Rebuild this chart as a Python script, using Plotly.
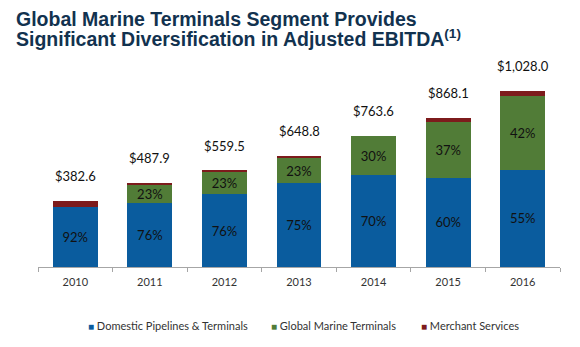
import plotly.graph_objects as go

years = ["2010", "2011", "2012", "2013", "2014", "2015", "2016"]
totals = [382.6, 487.9, 559.5, 648.8, 763.6, 868.1, 1028.0]
domestic = [352.0, 370.8, 425.2, 486.6, 534.5, 520.9, 565.4]
marine = [0.0, 112.2, 128.7, 149.2, 229.1, 321.2, 431.8]
merchant = [30.6, 4.9, 5.6, 13.0, 0.0, 26.0, 30.8]
domestic_pct = ["92%", "76%", "76%", "75%", "70%", "60%", "55%"]
marine_pct = ["", "23%", "23%", "23%", "30%", "37%", "42%"]
total_labels = ["$382.6", "$487.9", "$559.5", "$648.8", "$763.6", "$868.1", "$1,028.0"]
series_names = ["Domestic Pipelines & Terminals", "Global Marine Terminals", "Merchant Services"]

C_BLUE = "#0a5c9e"
C_GREEN = "#517c37"
C_RED = "#7d1b1c"
FONT = "Lato"

fig = go.Figure()
fig.add_trace(go.Bar(x=years, y=domestic, marker=dict(color=C_BLUE, line=dict(width=0)),
                     text=domestic_pct, textposition="inside", insidetextanchor="middle",
                     textangle=0, constraintext="none",
                     textfont=dict(family=FONT, size=13, color="#111111"), name=series_names[0]))
fig.add_trace(go.Bar(x=years, y=marine, marker=dict(color=C_GREEN, line=dict(width=0)),
                     text=marine_pct, textposition="inside", insidetextanchor="middle",
                     textangle=0, constraintext="none",
                     textfont=dict(family=FONT, size=13, color="#111111"), name=series_names[1]))
fig.add_trace(go.Bar(x=years, y=merchant, marker=dict(color=C_RED, line=dict(width=0)),
                     name=series_names[2], textposition="none"))

for i, (tot, lab) in enumerate(zip(totals, total_labels)):
    fig.add_annotation(x=i, y=tot, text=lab, showarrow=False, yshift=25,
                       xanchor="center", yanchor="middle",
                       font=dict(family=FONT, size=13, color="#111111"))

# title lines
TX = (14 - 38) / 522
fig.add_annotation(xref="paper", yref="paper", x=TX, y=1 + (61 - 19) / 206,
                   text="<b>Global Marine Terminals Segment Provides</b>", showarrow=False,
                   xanchor="left", yanchor="middle",
                   font=dict(family="Liberation Sans", size=19.5, color="#12324f"))
fig.add_annotation(xref="paper", yref="paper", x=TX, y=1 + (61 - 38) / 206,
                   text="<b>Significant Diversification in Adjusted EBITDA<sup>(1)</sup></b>", showarrow=False,
                   xanchor="left", yanchor="middle",
                   font=dict(family="Liberation Sans", size=19.5, color="#12324f"))

# legend as annotations
legend_x = [86, 269, 419]
for name, col, lx in zip(series_names, [C_BLUE, C_GREEN, C_RED], legend_x):
    fig.add_annotation(xref="paper", yref="paper", x=(lx - 38) / 522, y=-(325 - 267) / 206,
                       text=f"<span style='color:{col};font-size:10px'>■</span> {name}",
                       showarrow=False, xanchor="left", yanchor="middle",
                       font=dict(family=FONT, size=11, color="#333333"))

fig.update_layout(
    barmode="stack", bargap=0.4,
    width=580, height=347,
    margin=dict(l=38, r=20, t=61, b=80),
    paper_bgcolor="white", plot_bgcolor="rgba(0,0,0,0)",
    showlegend=False,
    xaxis=dict(type="category", range=[-0.5, 6.5], showline=True, linecolor="#a6a6a6", linewidth=1,
               ticks="outside", tickson="boundaries", ticklen=4, tickcolor="#a6a6a6",
               ticklabelstandoff=5,
               tickfont=dict(family=FONT, size=11, color="#333333"), showgrid=False),
    yaxis=dict(range=[0, 1200], visible=False, showgrid=False),
)

fig.write_html("out.html")
